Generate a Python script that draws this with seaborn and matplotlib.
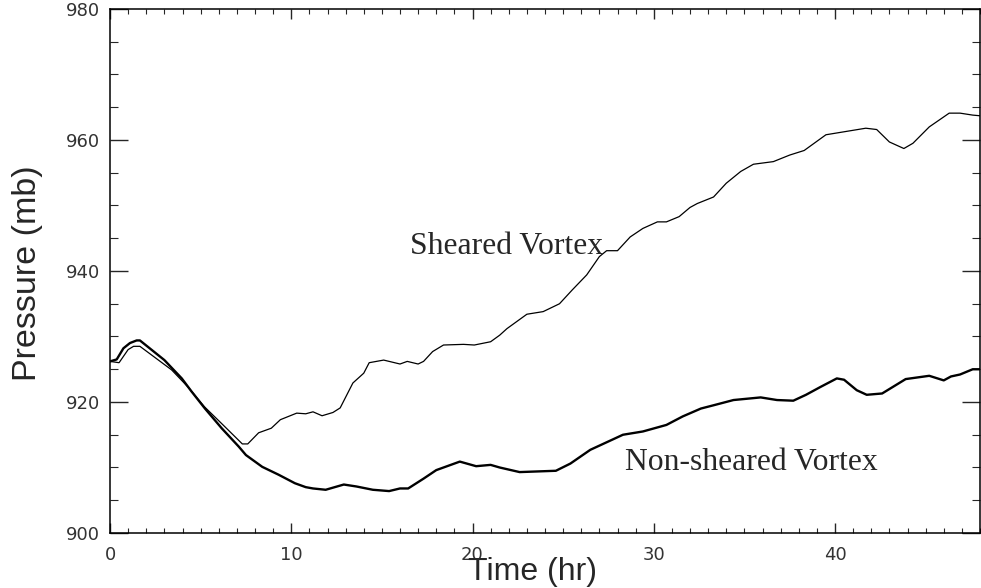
import numpy as np
import pandas as pd
import matplotlib
matplotlib.use("Agg")
import matplotlib.pyplot as plt
from matplotlib.ticker import MultipleLocator
import seaborn as sns

# ---- data ----
sheared_t = [0, 0.5, 1.0, 1.3, 1.65, 3.4, 4.3, 5.2, 6.2, 7.3,
             7.6, 8.2, 8.9, 9.4, 10.3, 10.8, 11.2, 11.7, 12.3, 12.7,
             13.4, 14.0, 14.3, 15.1, 16.0, 16.4, 17.0, 17.3, 17.8, 18.4,
             19.5, 20.1, 21.0, 21.5, 21.9, 23.0, 23.9, 24.8, 25.5, 26.3,
             27.0, 27.4, 28.0, 28.7, 29.4, 30.2, 30.7, 31.4, 32.0, 32.4,
             33.3, 34.0, 34.8, 35.5, 36.6, 37.5, 38.3, 39.5, 40.6, 41.7,
             42.3, 43.0, 43.8, 44.3, 45.2, 46.3, 46.9, 47.6, 48.0]
sheared_p = [926.2, 926.0, 928.0, 928.5, 928.5, 924.9, 922.3, 919.3, 916.6, 913.6,
             913.6, 915.3, 916.0, 917.3, 918.3, 918.2, 918.5, 917.9, 918.4, 919.1,
             922.9, 924.4, 926.0, 926.4, 925.8, 926.2, 925.8, 926.2, 927.7, 928.7,
             928.8, 928.7, 929.2, 930.2, 931.2, 933.4, 933.8, 935.0, 937.1, 939.4,
             942.2, 943.1, 943.1, 945.2, 946.5, 947.5, 947.5, 948.3, 949.7, 950.3,
             951.3, 953.4, 955.2, 956.3, 956.7, 957.7, 958.4, 960.8, 961.3, 961.8,
             961.6, 959.7, 958.7, 959.5, 962.0, 964.1, 964.1, 963.8, 963.7]

nonsheared_t = [0, 0.37, 0.74, 1.1, 1.47, 1.65, 2.1, 3.0, 3.96, 4.5,
                5.24, 6.16, 7.1, 7.5, 8.4, 9.3, 10.2, 10.8, 11.2, 11.9,
                12.9, 13.6, 14.5, 15.4, 16.0, 16.45, 17.3, 18.0, 19.3, 20.2,
                21.0, 21.5, 22.6, 24.6, 25.4, 26.5, 28.3, 29.4, 30.7, 31.6,
                32.6, 33.3, 34.4, 35.9, 36.8, 37.7, 38.4, 39.2, 40.1, 40.5,
                41.2, 41.75, 42.6, 43.9, 45.2, 46.0, 46.4, 46.9, 47.6, 48.0]
nonsheared_p = [926.2, 926.5, 928.2, 929.0, 929.4, 929.4, 928.4, 926.4, 923.6, 921.6,
                919.0, 916.0, 913.2, 911.9, 910.1, 908.9, 907.6, 907.0, 906.8, 906.6,
                907.4, 907.1, 906.6, 906.4, 906.8, 906.8, 908.3, 909.6, 910.9, 910.2,
                910.4, 910.0, 909.3, 909.5, 910.6, 912.7, 915.0, 915.5, 916.5, 917.8,
                919.0, 919.5, 920.3, 920.7, 920.3, 920.2, 921.1, 922.3, 923.6, 923.4,
                921.8, 921.1, 921.3, 923.5, 924.0, 923.3, 923.9, 924.2, 925.0, 925.0]

series_names = ["Sheared Vortex", "Non-sheared Vortex"]
x_ticks = [0, 10, 20, 30, 40]
y_ticks = [900, 920, 940, 960, 980]

df = pd.concat([
    pd.DataFrame({"t": sheared_t, "p": sheared_p, "case": series_names[0]}),
    pd.DataFrame({"t": nonsheared_t, "p": nonsheared_p, "case": series_names[1]}),
], ignore_index=True)

sns.set_style("ticks")
plt.rcParams["font.family"] = ["DejaVu Sans"]

fig = plt.figure(figsize=(9.81, 5.88), dpi=100)
ax = fig.add_axes([110 / 981, 1 - 533 / 588, 870 / 981, 524 / 588])

sns.lineplot(data=df[df.case == series_names[0]], x="t", y="p", ax=ax,
             color="black", linewidth=0.9, estimator=None, sort=False)
sns.lineplot(data=df[df.case == series_names[1]], x="t", y="p", ax=ax,
             color="black", linewidth=1.7, estimator=None, sort=False)

ax.set_xlim(0, 48)
ax.set_ylim(900, 980)
ax.set_xticks(x_ticks)
ax.set_yticks(y_ticks)
ax.xaxis.set_minor_locator(MultipleLocator(1))
ax.yaxis.set_minor_locator(MultipleLocator(5))
ax.set_xlabel("")
ax.set_ylabel("")

for s in ax.spines.values():
    s.set_visible(True)
    s.set_color("black")
    s.set_linewidth(1.1)

ax.tick_params(axis="x", which="major", direction="in", length=7.2, width=1,
               top=True, bottom=True, pad=9, labelsize=13, labelcolor="#333333")
ax.tick_params(axis="x", which="minor", direction="in", length=3.6, width=0.8,
               top=True, bottom=True)
ax.tick_params(axis="y", which="major", direction="in", length=13, width=1,
               left=True, right=True, pad=7, labelsize=13, labelcolor="#333333")
ax.tick_params(axis="y", which="minor", direction="in", length=5.8, width=0.8,
               left=True, right=True)

ax.text(16.55, 942.6, series_names[0], family="Liberation Serif", fontsize=22.8,
        ha="left", va="baseline")
ax.text(28.41, 909.6, series_names[1], family="Liberation Serif", fontsize=22.8,
        ha="left", va="baseline")

fig.text(532 / 981, 1 - 572 / 588, "Time (hr)", family="Liberation Sans",
         fontsize=23, ha="center", va="center")
fig.text(28 / 981, 1 - 273 / 588, "Pressure (mb)", family="Liberation Sans",
         fontsize=24.5, ha="center", va="center", rotation=90)

fig.savefig("out.png", dpi=100)
